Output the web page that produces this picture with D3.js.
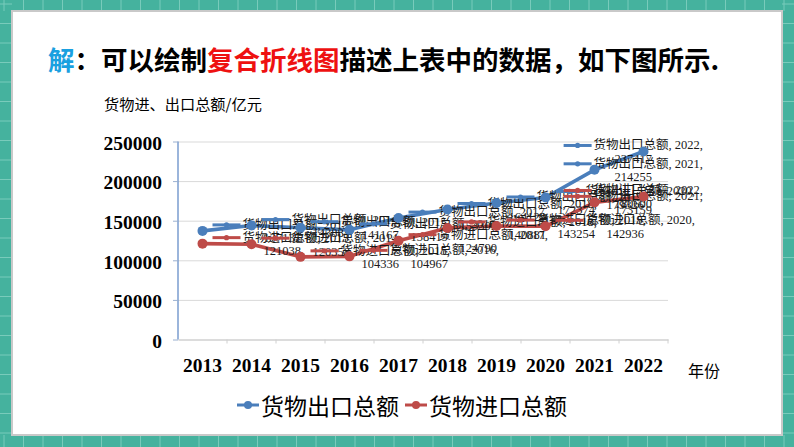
<!DOCTYPE html>
<html><head><meta charset="utf-8">
<script src="https://cdn.jsdelivr.net/npm/d3@7"></script>
<style>
html,body{margin:0;padding:0;background:#fff;}
svg{display:block;}
</style></head>
<body>
<svg id="c" width="794" height="447"></svg>
<script>
// ---- data ----
const years = ["2013","2014","2015","2016","2017","2018","2019","2020","2021","2022"];
const exportValues = [137131,143884,141167,138419,153309,164129,172374,179326,214255,237417];
const importValues = [121038,120358,104336,104967,124790,140881,143254,142936,173159,180600];
const seriesNames = ["货物出口总额","货物进口总额"];
const yTickValues = [0,50000,100000,150000,200000,250000];
const titleParts = [["解","#1aa0e0"],["：可以绘制","#000"],["复合折线图","#ee1111"],["描述上表中的数据，如下图所示.","#000"]];
const yAxisTitle = "货物进、出口总额/亿元";
const xAxisTitle = "年份";

const colors = ["#4a7ebb","#be4b48"];
const series = [exportValues, importValues];

const svg = d3.select("#c");
const W = 794, H = 447;

// ---- frame ----
svg.append("rect").attr("width",W).attr("height",H).attr("fill","#45b29e");
const frame = svg.append("g").attr("stroke","#79cbbb").attr("stroke-width",1);
for (let x = 4; x < W; x += 19.5) {
  frame.append("line").attr("x1",x).attr("x2",x).attr("y1",0).attr("y2",11);
  frame.append("line").attr("x1",x).attr("x2",x).attr("y1",435).attr("y2",H);
}
for (let y = 4; y < H; y += 19.5) {
  frame.append("line").attr("y1",y).attr("y2",y).attr("x1",0).attr("x2",12);
  frame.append("line").attr("y1",y).attr("y2",y).attr("x1",782).attr("x2",W);
}
svg.append("rect").attr("x",11).attr("y",10).attr("width",772).attr("height",426).attr("fill","#c9c9c9");
svg.append("rect").attr("x",13).attr("y",12).attr("width",768).attr("height",422).attr("fill","#fff");

// ---- title ----
const title = svg.append("text").attr("x",48).attr("y",58)
  .attr("dominant-baseline","central")
  .attr("font-family","'Noto Sans CJK SC', sans-serif")
  .attr("font-size",26.5).attr("font-weight","bold");
titleParts.forEach(p => title.append("tspan").attr("fill",p[1]).text(p[0]));

// ---- scales ----
const plotL = 178, plotR = 668, plotT = 141.5, plotB = 339.5;
const x = d3.scaleBand().domain(years).range([plotL, plotR]);
const y = d3.scaleLinear().domain([0,250000]).range([plotB, plotT]);
const cx = d => x(d) + x.bandwidth()/2;

// gridlines
const grid = svg.append("g").attr("transform",`translate(${plotL},0)`)
  .call(d3.axisRight(y).tickValues(yTickValues.filter(v=>v>0)).tickSize(plotR-plotL).tickFormat(""));
grid.select(".domain").remove();
grid.selectAll("line").attr("stroke","#d9d9d9").attr("stroke-width",1);

// x axis
const xa = svg.append("g").attr("transform",`translate(0,${plotB})`)
  .call(d3.axisBottom(x).tickSize(0).tickPadding(19));
xa.select(".domain").attr("stroke","#d0d0d0").attr("stroke-width",1.5);
xa.selectAll("text").attr("font-family","'Liberation Serif', serif").attr("font-weight","bold")
  .attr("font-size",19.5).attr("fill","#000").attr("dy","0.35em").attr("y",26);
// small boundary ticks
svg.append("g").selectAll("line").data(years).join("line")
  .attr("x1",d=>x(d)+x.bandwidth()).attr("x2",d=>x(d)+x.bandwidth())
  .attr("y1",plotB).attr("y2",plotB+4).attr("stroke","#d0d0d0");

// y axis
const ya = svg.append("g").attr("transform",`translate(${plotL},0)`)
  .call(d3.axisLeft(y).tickValues(yTickValues).tickSize(5).tickPadding(11).tickFormat(d3.format("d")));
ya.select(".domain").attr("stroke","#7a9ccf").attr("stroke-width",1.5).attr("d",`M0,${plotT}V${plotB}`);
ya.selectAll(".tick line").attr("stroke","#9ab0d0");
ya.selectAll("text").attr("font-family","'Liberation Serif', serif").attr("font-weight","bold")
  .attr("font-size",19.5).attr("fill","#000").attr("dy","0.4em");

// axis titles
svg.append("text").attr("x",104).attr("y",103).attr("dominant-baseline","central")
  .attr("font-family","'Noto Sans CJK SC', sans-serif").attr("font-size",15.2).attr("fill","#000")
  .text(yAxisTitle);
svg.append("text").attr("x",688).attr("y",370).attr("dominant-baseline","central")
  .attr("font-family","'Noto Sans CJK SC', sans-serif").attr("font-size",16).attr("fill","#000")
  .text(xAxisTitle);

// ---- lines ----
const line = d3.line().x((d,i)=>cx(years[i])).y(d=>y(d));
series.forEach((vals,s) => {
  svg.append("path").datum(vals).attr("d",line).attr("fill","none")
    .attr("stroke",colors[s]).attr("stroke-width",3.6).attr("stroke-linejoin","round");
});

// ---- data labels ----
const labelFont = "'Liberation Serif', 'Noto Sans CJK SC', serif";
const labels = svg.append("g");
series.forEach((vals,s) => {
  vals.forEach((v,i) => {
    const px = cx(years[i]), py = y(v);
    const g = labels.append("g");
    const t = g.append("text").attr("font-family",labelFont).attr("font-size",12.5).attr("fill","#1a1a1a")
      .attr("dominant-baseline","central")
      .text(`${seriesNames[s]}, ${years[i]},`);
    const tw = t.node().getComputedTextLength();
    const keyW = 30;
    const bw = keyW + tw;
    let left = Math.min(px + 10, 703 - bw);
    const l1 = py - 6, l2 = py + 7.5;
    t.attr("x", left + keyW).attr("y", l1);
    g.insert("line","text").attr("x1",left).attr("x2",left+keyW-2).attr("y1",l1).attr("y2",l1)
      .attr("stroke",colors[s]).attr("stroke-width",3);
    g.insert("circle","text").attr("cx",left+keyW/2-1).attr("cy",l1).attr("r",2.6).attr("fill",colors[s]);
    g.append("text").attr("font-family",labelFont).attr("font-size",12.5).attr("fill","#1a1a1a")
      .attr("dominant-baseline","central").attr("text-anchor","middle")
      .attr("x", left + bw/2).attr("y", l2).text(d3.format("d")(v));
  });
});

// ---- markers ----
series.forEach((vals,s) => {
  svg.append("g").selectAll("circle").data(vals).join("circle")
    .attr("cx",(d,i)=>cx(years[i])).attr("cy",d=>y(d)).attr("r",5).attr("fill",colors[s]);
});

// ---- legend ----
const legX = [237, 405];
seriesNames.forEach((n,s) => {
  const lx = legX[s], ly = 405;
  svg.append("line").attr("x1",lx).attr("x2",lx+22).attr("y1",ly).attr("y2",ly)
    .attr("stroke",colors[s]).attr("stroke-width",3);
  svg.append("circle").attr("cx",lx+11).attr("cy",ly).attr("r",4).attr("fill",colors[s]);
  svg.append("text").attr("x",lx+24).attr("y",ly).attr("dominant-baseline","central")
    .attr("font-family","'Noto Sans CJK SC', sans-serif").attr("font-size",23).attr("fill","#000")
    .text(n);
});
</script>
</body></html>
